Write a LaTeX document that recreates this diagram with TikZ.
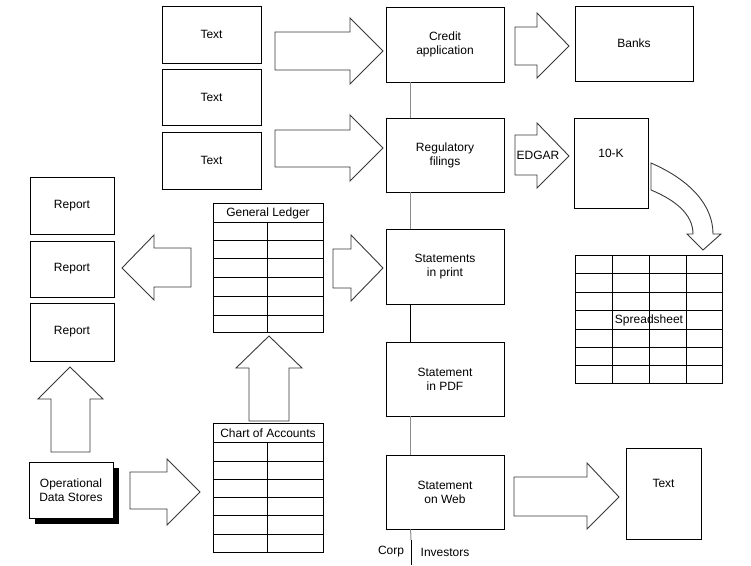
\documentclass[tikz,border=0pt]{standalone}
\usepackage{fontspec}
\setmainfont{Liberation Sans}
\usetikzlibrary{calc}
\begin{document}
\begin{tikzpicture}[x=1pt,y=-1pt,
  every node/.style={font=\fontsize{12}{14}\selectfont},
  box/.style={draw=black, line width=0.8pt, inner sep=0pt, align=center, fill=white},
  barrow/.style={draw=black!78, line width=0.9pt, fill=white, line join=miter},
  grid line/.style={draw=black, line width=0.8pt},
  vline/.style={draw=black!45, line width=1pt},
  vlineb/.style={draw=black, line width=0.8pt}]
\useasboundingbox (0,0) rectangle (751,565);

% ---- middle column ----
\node[box, minimum width=118pt, minimum height=75pt] (credit) at (445,44.5) {Credit\\application};
\node[box, minimum width=118pt, minimum height=74pt] (reg) at (445,155) {Regulatory\\filings};
\node[box, minimum width=118pt, minimum height=75pt] (print) at (445,266.5) {Statements\\in print};
\node[box, minimum width=118pt, minimum height=74pt] (pdf) at (445,379) {Statement\\in PDF};
\node[box, minimum width=118pt, minimum height=74pt] (web) at (445,492) {Statement\\on Web};

\draw[vline] ($(credit.south west)+(25,0)$) -- ($(reg.north west)+(25,0)$);
\draw[vline] ($(reg.south west)+(25,0)$) -- ($(print.north west)+(25,0)$);
\draw[vlineb] ($(print.south west)+(25,0)$) -- ($(pdf.north west)+(25,0)$);
\draw[vline] ($(pdf.south west)+(25,0)$) -- ($(web.north west)+(25,0)$);
\coordinate (vmid) at (411,540);
\coordinate (vbot) at (411,565);
\draw[vline] ($(web.south west)+(25,0)$) -- (vmid);
\draw[vlineb] (vmid) -- (vbot);
\node (corp) at (391,552) {Corp};
\node (inv) at (445,552) {Investors};

% ---- top-left text boxes ----
\node[box, minimum width=99pt, minimum height=57pt] (t1) at (211.5,34.5) {Text};
\node[box, minimum width=99pt, minimum height=56pt] (t2) at (211.5,97) {Text};
\node[box, minimum width=99pt, minimum height=57pt] (t3) at (211.5,160.5) {Text};

% ---- right column ----
\node[box, minimum width=118pt, minimum height=75pt] (banks) at (634,43.5) {Banks};
\node[box, minimum width=74pt, minimum height=90pt] (tenk) at (611,163) {};
\node (tenkt) at (611,153) {10-K};
\node[box, minimum width=75pt, minimum height=91pt] (textr) at (663.5,493.5) {};
\node (textrt) at (663.5,483) {Text};

% ---- reports ----
\node[box, minimum width=84pt, minimum height=57pt] (rep1) at (72,205.5) {Report};
\node[box, minimum width=84pt, minimum height=56pt] (rep2) at (72,269) {Report};
\node[box, minimum width=84pt, minimum height=58pt] (rep3) at (72,332) {Report};

% ---- operational data stores with shadow ----
\fill[black] (35,468) rectangle (119,524);
\node[box, minimum width=84pt, minimum height=56pt] (ods) at (71,490) {Operational\\Data Stores};

% ---- General Ledger table ----
\node[box, fill=none, minimum width=110pt, minimum height=129pt, anchor=north west] (gl) at (213,203) {};
\node (glh) at (268,213) {General Ledger};
\foreach \y in {222,240,258,277,296,315} \draw[grid line] (213,\y) -- (323,\y);
\draw[grid line] (267,222) -- (267,332);

% ---- Chart of Accounts table ----
\node[box, fill=none, minimum width=110pt, minimum height=129pt, anchor=north west] (coa) at (213,423) {};
\node (coah) at (268,433) {Chart of Accounts};
\foreach \y in {442,461,479,497,515,534} \draw[grid line] (213,\y) -- (323,\y);
\draw[grid line] (267,442) -- (267,552);

% ---- Spreadsheet ----
\node[box, fill=none, minimum width=147pt, minimum height=128pt, anchor=north west] (ss) at (575,255) {};
\foreach \y in {273,292,310,329,347,365} \draw[grid line] (575,\y) -- (722,\y);
\foreach \x in {612,649,686} \draw[grid line] (\x,255) -- (\x,383);
\node (sst) at (649,320) {Spreadsheet};

% ---- block arrows ----
\draw[barrow] (275,32)--(350,32)--(350,18)--(383,51)--(350,84)--(350,70)--(275,70)--cycle;
\draw[barrow] (275,130)--(350,130)--(350,115)--(383,148)--(350,181)--(350,167)--(275,167)--cycle;
\draw[barrow] (515,27)--(537,27)--(537,13)--(569,46)--(537,78)--(537,65)--(515,65)--cycle;
\draw[barrow] (515,135)--(537,135)--(537,123)--(569,156)--(537,188)--(537,175)--(515,175)--cycle;
\node (edgar) at (538,155.5) {EDGAR};
\draw[barrow] (333,249)--(351,249)--(351,235)--(383,268)--(351,301)--(351,288)--(333,288)--cycle;
\draw[barrow] (130,472)--(167,472)--(167,459)--(200,492)--(167,525)--(167,509)--(130,509)--cycle;
\draw[barrow] (514,477)--(587,477)--(587,463)--(619,497)--(587,529)--(587,516)--(514,516)--cycle;
\draw[barrow] (191,248)--(154,248)--(154,235)--(122,268)--(154,300)--(154,287)--(191,287)--cycle;
\draw[barrow] (51,452)--(51,399)--(38,399)--(70,367)--(103,399)--(90,399)--(90,452)--cycle;
\draw[barrow] (249,421)--(249,368)--(236,368)--(269,336)--(302,368)--(289,368)--(289,421)--cycle;
% curved arrow 10-K -> spreadsheet
\draw[barrow] (651,163) .. controls (690,180) and (713,205) .. (713,234)
  -- (721,234) -- (703,250) -- (687,234) -- (693,234)
  .. controls (693,214) and (675,200) .. (651,190) -- cycle;
\end{tikzpicture}
\end{document}
